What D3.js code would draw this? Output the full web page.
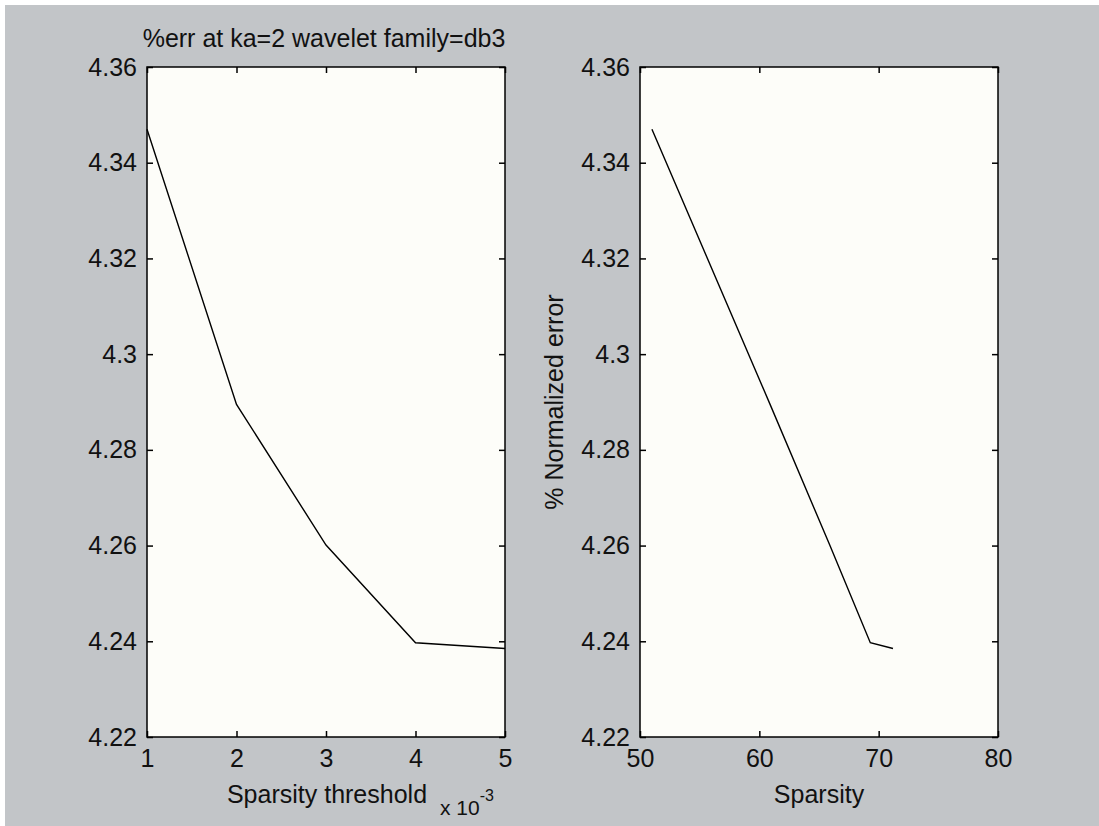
<!DOCTYPE html>
<html>
<head>
<meta charset="utf-8">
<script src="https://cdn.jsdelivr.net/npm/d3@7"></script>
<style>
  body { margin: 0; background: #fff; }
  svg text { font-family: "Liberation Sans", Arial, sans-serif; fill: #111; }
</style>
</head>
<body>
<svg width="1099" height="826"></svg>
<script>
// data
var threshold = [1, 2, 3, 4, 5];            // x 10^-3
var sparsity = [51.0, 60.9, 65.9, 69.3, 71.2];
var errPct = [4.347, 4.2895, 4.2601, 4.2397, 4.2385];

var yTicks = [4.22, 4.24, 4.26, 4.28, 4.3, 4.32, 4.34, 4.36];
var yTickLabels = ["4.22", "4.24", "4.26", "4.28", "4.3", "4.32", "4.34", "4.36"];
var xTicksLeft = [1, 2, 3, 4, 5];
var xTicksRight = [50, 60, 70, 80];

var svg = d3.select("svg");

// figure background
svg.append("rect").attr("x", 5).attr("y", 5).attr("width", 1094).attr("height", 821).attr("fill", "#c2c5c8");

var plotTop = 67, plotBottom = 737, tickLen = 6;

var yScale = d3.scaleLinear().domain([4.22, 4.36]).range([plotBottom, plotTop]);

function styleAxis(sel) {
  sel.select(".domain").remove();
  sel.selectAll("line").attr("stroke", "#000").attr("stroke-width", 1.5);
  sel.selectAll("text").attr("font-size", "25px").attr("fill", "#111")
    .style("font-family", "'Liberation Sans', Arial, sans-serif");
}

function panel(x0, x1, xDomain, xTicks, xs, ys) {
  var xScale = d3.scaleLinear().domain(xDomain).range([x0, x1]);
  var g = svg.append("g");

  g.append("rect")
    .attr("x", x0).attr("y", plotTop)
    .attr("width", x1 - x0).attr("height", plotBottom - plotTop)
    .attr("fill", "#fdfdf9");

  // ticks on all four sides, pointing inward
  g.append("g").attr("transform", "translate(0," + plotBottom + ")")
    .call(d3.axisBottom(xScale).tickValues(xTicks).tickSizeInner(-tickLen).tickSizeOuter(0).tickPadding(12)
      .tickFormat(d3.format("d")))
    .call(styleAxis);
  g.append("g").attr("transform", "translate(0," + plotTop + ")")
    .call(d3.axisTop(xScale).tickValues(xTicks).tickSizeInner(-tickLen).tickSizeOuter(0).tickFormat(""))
    .call(styleAxis);
  g.append("g").attr("transform", "translate(" + x0 + ",0)")
    .call(d3.axisLeft(yScale).tickValues(yTicks).tickSizeInner(-tickLen).tickSizeOuter(0).tickPadding(10)
      .tickFormat(function(d, i) { return yTickLabels[i]; }))
    .call(styleAxis);
  g.append("g").attr("transform", "translate(" + x1 + ",0)")
    .call(d3.axisRight(yScale).tickValues(yTicks).tickSizeInner(-tickLen).tickSizeOuter(0).tickFormat(""))
    .call(styleAxis);

  g.append("rect")
    .attr("x", x0).attr("y", plotTop)
    .attr("width", x1 - x0).attr("height", plotBottom - plotTop)
    .attr("fill", "none").attr("stroke", "#000").attr("stroke-width", 1.5);

  var line = d3.line()
    .x(function(d, i) { return xScale(xs[i]); })
    .y(function(d, i) { return yScale(ys[i]); });

  g.append("path")
    .datum(xs)
    .attr("d", line)
    .attr("fill", "none")
    .attr("stroke", "#000")
    .attr("stroke-width", 1.4);

  return xScale;
}

panel(147, 505, [1, 5], xTicksLeft, threshold, errPct);
panel(640, 998, [50, 80], xTicksRight, sparsity, errPct);

// text
svg.append("text").attr("x", 324).attr("y", 47).attr("text-anchor", "middle")
  .attr("font-size", "25px").text("%err at ka=2 wavelet family=db3");

svg.append("text").attr("x", 327).attr("y", 803).attr("text-anchor", "middle")
  .attr("font-size", "25px").text("Sparsity threshold");

var exp = svg.append("text").attr("x", 440).attr("y", 815).attr("font-size", "21px");
exp.append("tspan").text("x 10");
exp.append("tspan").attr("dy", -14).attr("font-size", "16px").text("-3");

svg.append("text").attr("x", 819).attr("y", 803).attr("text-anchor", "middle")
  .attr("font-size", "25px").text("Sparsity");

svg.append("text")
  .attr("transform", "translate(563,402) rotate(-90)")
  .attr("text-anchor", "middle")
  .attr("font-size", "25px").text("% Normalized error");
</script>
</body>
</html>
